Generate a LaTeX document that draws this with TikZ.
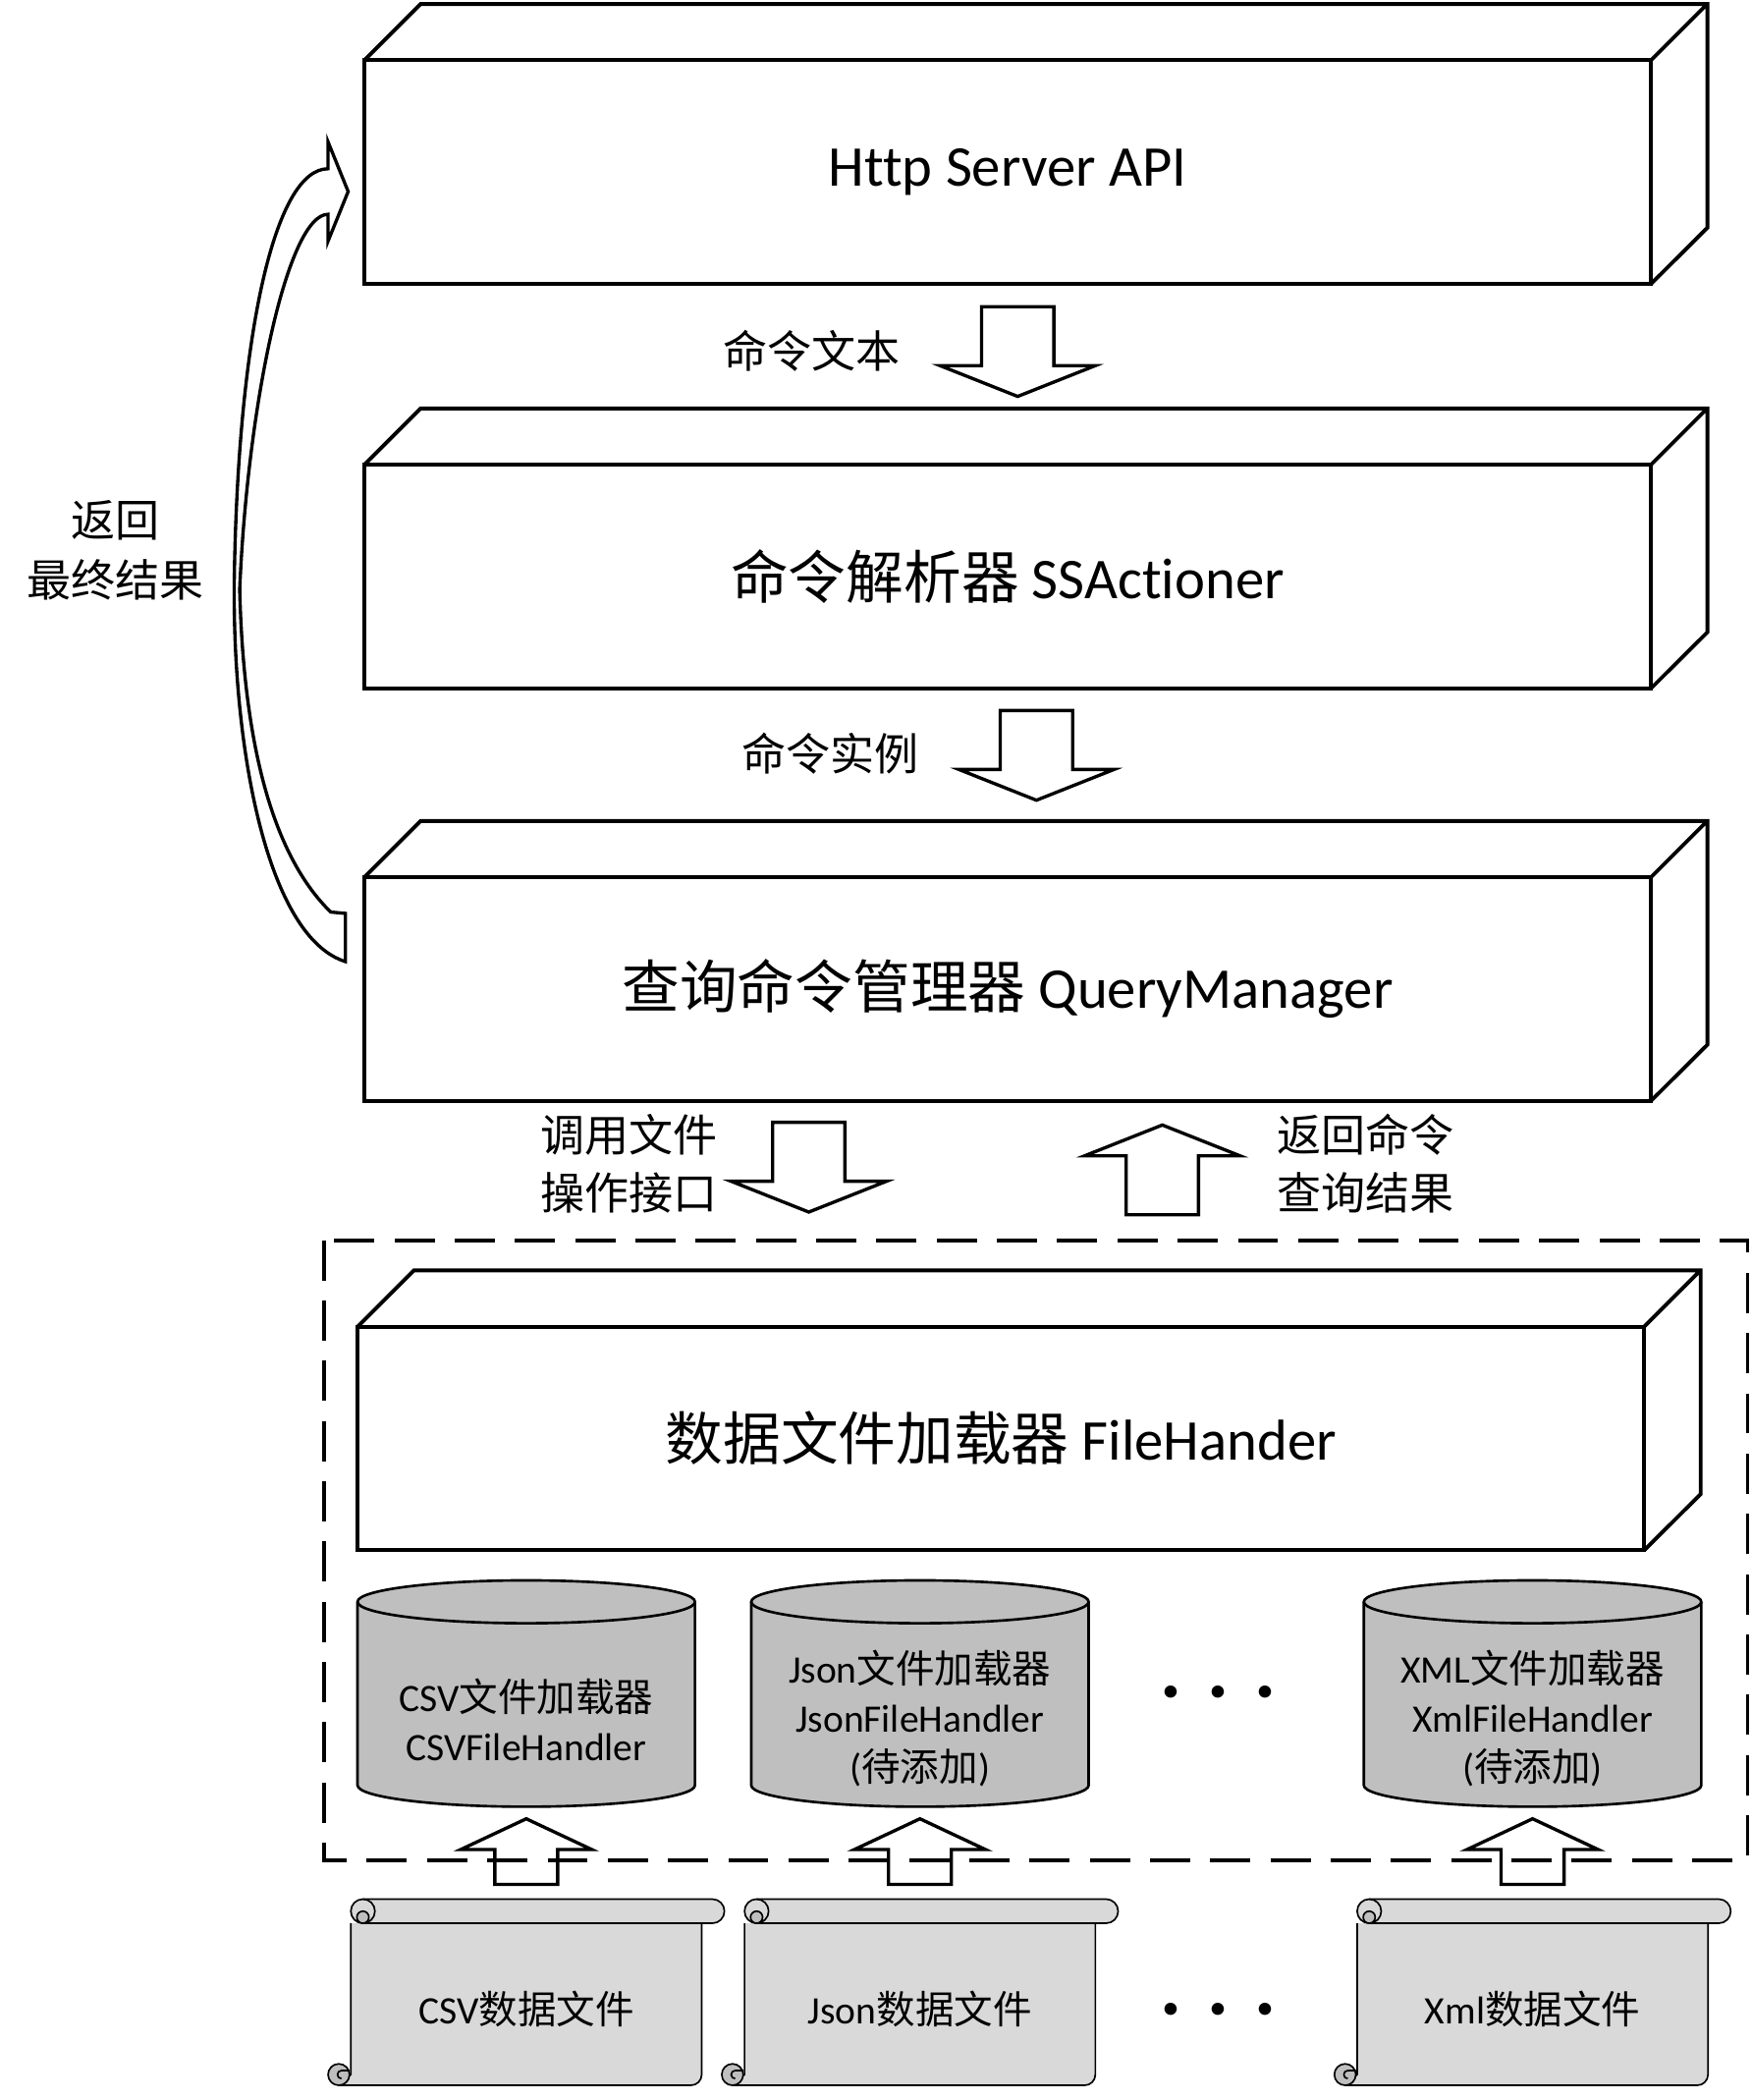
\documentclass[tikz,border=0pt]{standalone}
\usepackage{fontspec}
\setmainfont[Ligatures=NoCommon]{Carlito}
\newfontfamily\zhfont{Noto Sans CJK SC}
\newcommand\zh[1]{{\zhfont #1}}

\definecolor{cylgray}{RGB}{191,191,191}
\definecolor{scrollgray}{RGB}{217,217,217}

\tikzset{
  layer/.style={draw, line width=1.6pt, outer sep=0pt, inner sep=0pt,
    minimum width=19.22cm, minimum height=3.34cm,
    font=\fontsize{24.5}{30}\selectfont},
  layerline/.style={line width=1.6pt},
  blockarrow/.style={draw, fill=white, line width=1.4pt},
  lbl/.style={align=center, font=\zhfont\fontsize{18.8}{24.5}\selectfont},
  dbtext/.style={align=center, font=\fontsize{16.5}{21}\selectfont},
  dots/.style={font=\bfseries\fontsize{28}{30}\selectfont},
  thinline/.style={line width=0.7pt, line join=round},
  dnarrow/.pic={
    \draw[blockarrow] (-27,33.5) -- (27,33.5) -- (27,-10.5) -- (58,-10.5)
      -- (0,-33.5) -- (-58,-10.5) -- (-27,-10.5) -- cycle;
  },
  smallup/.pic={
    \draw[blockarrow] (-23.5,-24.5) -- (23.5,-24.5) -- (23.5,1.5) -- (49,1.5)
      -- (0,24.5) -- (-49,1.5) -- (-23.5,1.5) -- cycle;
  },
  dbcyl/.pic={
    \draw[line width=1.1pt, fill=cylgray] (-126,68.5) -- (-126,-68.5)
      arc[start angle=180, end angle=360, x radius=126, y radius=16]
      -- (126,68.5) arc[start angle=0, end angle=180, x radius=126, y radius=16] -- cycle;
    \draw[line width=1.1pt] (-126,68.5)
      arc[start angle=180, end angle=360, x radius=126, y radius=16];
  },
  scrollpaper/.pic={
    % sheet
    \draw[thinline, fill=scrollgray] (-131,52) -- (-131,-61) -- (-140,-69) -- (123,-69)
      arc[start angle=270, end angle=360, radius=8] -- (131,52);
    % lower curl
    \draw[thinline, fill=cylgray] (-140,-61) circle[radius=8];
    \draw[thinline] (-132,-58) -- (-138,-58) arc[start angle=90, end angle=270, radius=3];
    % upper roll
    \draw[thinline, fill=scrollgray] (-122,70) -- (139,70)
      arc[start angle=90, end angle=-90, radius=9] -- (-122,52)
      arc[start angle=270, end angle=90, radius=9] -- cycle;
    \draw[thinline] (-122,70) arc[start angle=90, end angle=-90, radius=9];
    \draw[thinline, fill=cylgray] (-122,56.5) circle[radius=4.5];
  }
}

\begin{document}
\begin{tikzpicture}[x=0.02cm, y=0.02cm]
  \useasboundingbox (0,0) rectangle (1308,-1568);

  % layers
  \node[layer] (http) at (752.5,-128.5) {Http Server API};
  \node[layer] (act) at (752.5,-430.5) {\zh{命令解析器} SSActioner};
  \node[layer] (qm) at (752.5,-738.5) {\zh{查询命令管理器} QueryManager};
  \node[layer] (fh) at (747.5,-1074) {\zh{数据文件加载器} FileHander};
  \foreach \n in {http,act,qm,fh}
    \draw[layerline] (\n.north west) -- ++(42,42) -- ++(961,0) -- ++(0,-167) -- (\n.south east)
                     (\n.north east) -- ++(42,42);

  % between the layers
  \pic at (760,-262.5) {dnarrow};
  \node[lbl] (cmdtext) at (606,-262) {命令文本};
  \pic at (774,-564) {dnarrow};
  \node[lbl] (cmdinst) at (620,-563) {命令实例};
  \pic at (604,-871.5) {dnarrow};
  \node[lbl] (callfile) at (470,-869) {调用文件\\操作接口};
  \pic[rotate=180] at (868,-873.5) {dnarrow};
  \node[lbl] (backres) at (1020,-869) {返回命令\\查询结果};

  % final result back to the api
  \draw[blockarrow] (258,-718) .. controls (200,-700) and (173,-560) .. (175,-430)
    .. controls (178,-250) and (205,-126) .. (245,-126) -- (245,-106) -- (260,-143)
    -- (245,-180) -- (245,-160) .. controls (215,-160) and (185,-300) .. (179,-440)
    .. controls (182,-560) and (205,-640) .. (247,-681) -- (258,-682) -- cycle;
  \node[lbl, font=\zhfont\fontsize{18.8}{25.6}\selectfont] (final) at (86,-411) {返回\\最终结果};

  % loaders and data files
  \foreach \cx in {393,687,1144.5} {
    \pic at (\cx,-1264.5) {dbcyl};
    \pic at (\cx,-1382.5) {smallup};
    \pic at (\cx,-1488) {scrollpaper};
  }
  \node[dbtext] (csvload) at (393,-1284) {CSV\zh{文件加载器}\\CSVFileHandler};
  \node[dbtext] (jsonload) at (687,-1283) {Json\zh{文件加载器}\\JsonFileHandler\\(\zh{待添加})};
  \node[dbtext] (xmlload) at (1144.5,-1283) {XML\zh{文件加载器}\\XmlFileHandler\\(\zh{待添加})};
  \node[dbtext] (csvfile) at (393,-1500) {CSV\zh{数据文件}};
  \node[dbtext] (jsonfile) at (687,-1500) {Json\zh{数据文件}};
  \node[dbtext] (xmlfile) at (1144.5,-1500) {Xml\zh{数据文件}};
  \node[dots] (moreload) at (910,-1268) {·\hspace{0.44cm}·\hspace{0.44cm}·};
  \node[dots] (morefile) at (910,-1505) {·\hspace{0.44cm}·\hspace{0.44cm}·};

  \draw[line width=1.6pt, dash pattern=on 0.6cm off 0.3cm] (242,-926) rectangle (1305,-1389);
\end{tikzpicture}
\end{document}
